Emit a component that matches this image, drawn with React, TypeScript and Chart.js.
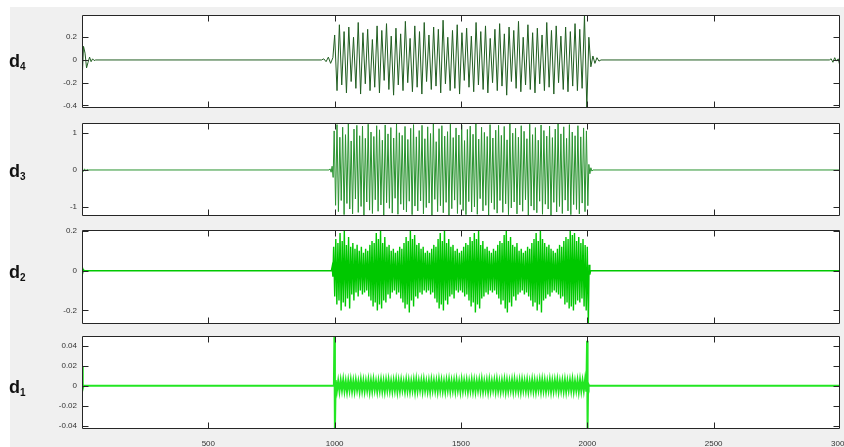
import React, { useEffect, useRef } from 'react';
import { Chart, registerables } from 'chart.js';

Chart.register(...registerables);

// ---------------- data ----------------
const xTickValues = [500, 1000, 1500, 2000, 2500, 3000];
const xTickLabels = ['500', '1000', '1500', '2000', '2500', '3000'];

const d4YTicks = [-0.4, -0.2, 0, 0.2];
const d4YLabels = ['-0.4', '-0.2', '0', '0.2'];
const d3YTicks = [-1, 0, 1];
const d3YLabels = ['-1', '0', '1'];
const d2YTicks = [-0.2, 0, 0.2];
const d2YLabels = ['-0.2', '0', '0.2'];
const d1YTicks = [-0.04, -0.02, 0, 0.02, 0.04];
const d1YLabels = ['-0.04', '-0.02', '0', '0.02', '0.04'];

// d4: edge transients and burst extremes (peak / trough per cycle)
const d4Head = [-0.2, 0.12, 0.06, -0.07, -0.02, 0.025, -0.015, 0.01, -0.005, 0];
const d4LeadIn = [0.01, -0.015, 0.025, -0.03, 0.02];
const d4Peaks = [
  0.22, 0.31, 0.25, 0.29, 0.2, 0.33, 0.24, 0.27, 0.18, 0.3,
  0.26, 0.32, 0.21, 0.28, 0.23, 0.34, 0.19, 0.3, 0.25, 0.33,
  0.22, 0.29, 0.27, 0.35, 0.2, 0.26, 0.31, 0.24, 0.28, 0.21,
  0.33, 0.25, 0.3, 0.19, 0.27, 0.32, 0.23, 0.29, 0.26, 0.34,
  0.2, 0.31, 0.24, 0.28, 0.22, 0.33, 0.26, 0.3, 0.21, 0.29,
  0.25, 0.32, 0.27, 0.39,
];
const d4Troughs = [
  -0.27, -0.22, -0.29, -0.19, -0.25, -0.3, -0.21, -0.27, -0.24, -0.29,
  -0.18, -0.26, -0.31, -0.22, -0.27, -0.2, -0.28, -0.24, -0.3, -0.19,
  -0.26, -0.23, -0.29, -0.21, -0.27, -0.25, -0.3, -0.18, -0.24, -0.28,
  -0.22, -0.26, -0.29, -0.2, -0.27, -0.23, -0.31, -0.19, -0.25, -0.28,
  -0.22, -0.26, -0.29, -0.21, -0.27, -0.24, -0.3, -0.2, -0.26, -0.28,
  -0.23, -0.27, -0.25, -0.42,
];
const d4LeadOut = [0.2, -0.06, 0.035, -0.03, 0.02, -0.01, 0];
const d4Tail = [0.01, -0.02, 0.02, -0.01, 0.01, -0.055];

// d3
const d3Head = [0.03, -0.04, 0.03, -0.02, 0.01, 0];
const d3LeadIn = [0.03, -0.06, 0.1, -0.2];
const d3Peaks = [
  1.05, 1.22, 0.88, 1.15, 0.95, 1.24, 0.78, 1.1, 1.2, 0.92, 1.18, 0.85, 1.23, 1.02, 0.9,
  1.19, 1.08, 0.8, 1.21, 0.97, 1.14, 0.86, 1.25, 1.0, 0.93, 1.17, 0.82, 1.12, 1.22, 0.89,
  1.06, 1.2, 0.84, 1.16, 0.98, 1.24, 0.76, 1.11, 1.19, 0.91, 1.03, 1.23, 0.87, 1.13, 0.94,
  1.21, 0.79, 1.09, 1.18, 0.96, 1.24, 0.83, 1.15, 1.01, 0.9, 1.22, 0.86, 1.07, 1.2, 0.93,
  1.17, 0.81, 1.25, 0.99, 1.12, 0.88, 1.19, 1.04, 0.84, 1.23, 0.95, 1.14, 0.8, 1.21, 1.06,
  0.91, 1.18, 0.87, 1.1, 1.24, 0.97, 1.16, 0.85, 1.22, 1.02, 0.92, 1.19, 0.89, 1.13, 1.05,
];
const d3Troughs = [
  -0.95, -1.12, -0.82, -1.2, -0.9, -1.05, -1.18, -0.78, -1.14, -0.98, -1.21, -0.86, -1.08, -1.17, -0.8,
  -1.11, -0.94, -1.22, -0.88, -1.03, -1.16, -0.76, -1.19, -0.92, -1.07, -1.13, -0.84, -1.2, -0.97, -1.1,
  -0.83, -1.18, -1.01, -0.89, -1.22, -0.79, -1.12, -0.96, -1.15, -0.87, -1.21, -1.04, -0.81, -1.17, -0.93,
  -1.09, -1.2, -0.85, -1.13, -0.99, -1.19, -0.77, -1.1, -0.95, -1.22, -0.88, -1.06, -1.16, -0.82, -1.14,
  -0.91, -1.2, -1.02, -0.86, -1.18, -0.94, -1.11, -0.8, -1.21, -0.97, -1.08, -1.15, -0.84, -1.19, -0.92,
  -1.05, -1.22, -0.87, -1.13, -0.98, -1.17, -0.81, -1.1, -1.2, -0.93, -1.06, -1.18, -0.89, -1.12, -0.96,
];
const d3LeadOut = [0.15, -0.1, 0.06, -0.03, 0];

// d2
const d2Head = [0.015, -0.01, 0.005, 0];
const d2LeadIn = [0.02, -0.03];
const d2Upper = [
  0.12, 0.16, 0.14, 0.19, 0.15, 0.2, 0.13, 0.17, 0.12, 0.14, 0.11, 0.13, 0.1, 0.12, 0.09,
  0.11, 0.1, 0.13, 0.15, 0.14, 0.19, 0.16, 0.2, 0.14, 0.17, 0.12, 0.13, 0.1, 0.11, 0.09,
  0.1, 0.12, 0.11, 0.14, 0.17, 0.15, 0.2, 0.16, 0.18, 0.13, 0.14, 0.11, 0.12, 0.09, 0.1,
  0.09, 0.11, 0.13, 0.12, 0.16, 0.19, 0.15, 0.2, 0.14, 0.16, 0.12, 0.13, 0.1, 0.11, 0.09,
  0.1, 0.12, 0.14, 0.13, 0.17, 0.15, 0.19, 0.16, 0.2, 0.13, 0.15, 0.11, 0.12, 0.1, 0.09,
  0.11, 0.1, 0.13, 0.15, 0.14, 0.18, 0.2, 0.15, 0.17, 0.13, 0.12, 0.14, 0.1, 0.11, 0.09,
  0.1, 0.12, 0.11, 0.14, 0.16, 0.19, 0.15, 0.2, 0.16, 0.14, 0.12, 0.13, 0.11, 0.1, 0.09,
  0.11, 0.13, 0.12, 0.15, 0.17, 0.16, 0.2, 0.18, 0.19, 0.15, 0.17, 0.14, 0.16, 0.13, 0.12,
];
const d2Lower = [
  -0.13, -0.17, -0.15, -0.2, -0.16, -0.18, -0.14, -0.19, -0.12, -0.15, -0.11, -0.13, -0.1, -0.12, -0.11,
  -0.1, -0.13, -0.15, -0.18, -0.16, -0.2, -0.17, -0.19, -0.15, -0.16, -0.12, -0.14, -0.11, -0.1, -0.12,
  -0.11, -0.14, -0.16, -0.19, -0.17, -0.21, -0.15, -0.18, -0.13, -0.14, -0.11, -0.12, -0.1, -0.11, -0.1,
  -0.12, -0.11, -0.14, -0.16, -0.19, -0.17, -0.2, -0.15, -0.17, -0.13, -0.12, -0.14, -0.1, -0.11, -0.1,
  -0.11, -0.13, -0.12, -0.15, -0.18, -0.16, -0.21, -0.17, -0.19, -0.14, -0.13, -0.11, -0.12, -0.1, -0.11,
  -0.1, -0.12, -0.14, -0.17, -0.15, -0.19, -0.21, -0.16, -0.18, -0.13, -0.15, -0.12, -0.11, -0.1, -0.12,
  -0.11, -0.13, -0.15, -0.18, -0.16, -0.2, -0.17, -0.21, -0.15, -0.14, -0.12, -0.13, -0.11, -0.1, -0.11,
  -0.12, -0.14, -0.13, -0.17, -0.16, -0.19, -0.18, -0.2, -0.17, -0.15, -0.16, -0.14, -0.18, -0.2, -0.27,
];
const d2LeadOut = [0.03, -0.02, 0];

// d1
const d1Head = [0.019, -0.003, 0];
const d1LeadIn = [0.05, -0.045];
const d1Upper = [
  0.0055, 0.0046, 0.0052, 0.0058, 0.0044, 0.005, 0.0056, 0.0047, 0.0053, 0.0042,
  0.0057, 0.0049, 0.0045, 0.0054, 0.0051, 0.0058, 0.0043, 0.0048, 0.0055, 0.0046,
  0.0052, 0.0057, 0.0044, 0.005, 0.0056, 0.0047, 0.0053, 0.0041, 0.0055, 0.0049,
  0.0045, 0.0054, 0.0058, 0.0046, 0.0051, 0.0056, 0.0043, 0.0048, 0.0055, 0.005,
  0.0047, 0.0057, 0.0052, 0.0044, 0.0053, 0.0058, 0.0046, 0.005, 0.0055, 0.0042,
  0.0056, 0.0049, 0.0053, 0.0045, 0.0057, 0.0051, 0.0047, 0.0054, 0.0058, 0.0044,
  0.005, 0.0055, 0.0046, 0.0052, 0.0057, 0.0043, 0.0049, 0.0056, 0.0051, 0.0047,
  0.0054, 0.0058, 0.0045, 0.005, 0.0055, 0.0048, 0.0053, 0.0042, 0.0057, 0.0049,
  0.0046, 0.0054, 0.0058, 0.0051, 0.0044, 0.0056, 0.0048, 0.0053, 0.0057, 0.0045,
  0.005, 0.0055, 0.0047, 0.0052, 0.0058, 0.0044, 0.0051, 0.0056, 0.0049, 0.006,
];
const d1Lower = [
  -0.005, -0.0056, -0.0045, -0.0053, -0.0058, -0.0047, -0.0052, -0.0055, -0.0043, -0.0057,
  -0.0049, -0.0054, -0.0046, -0.0058, -0.0051, -0.0044, -0.0056, -0.0048, -0.0053, -0.0057,
  -0.0045, -0.005, -0.0055, -0.0047, -0.0058, -0.0052, -0.0043, -0.0054, -0.0049, -0.0056,
  -0.0046, -0.0057, -0.0051, -0.0044, -0.0055, -0.0048, -0.0053, -0.0058, -0.0045, -0.005,
  -0.0056, -0.0047, -0.0052, -0.0057, -0.0043, -0.0054, -0.0049, -0.0055, -0.0046, -0.0058,
  -0.0051, -0.0044, -0.0056, -0.0048, -0.0053, -0.0057, -0.0045, -0.005, -0.0055, -0.0047,
  -0.0058, -0.0052, -0.0043, -0.0054, -0.0049, -0.0056, -0.0046, -0.0057, -0.0051, -0.0044,
  -0.0055, -0.0048, -0.0053, -0.0058, -0.0045, -0.005, -0.0056, -0.0047, -0.0052, -0.0057,
  -0.0043, -0.0054, -0.0049, -0.0055, -0.0046, -0.0058, -0.0051, -0.0044, -0.0056, -0.0048,
  -0.0053, -0.0057, -0.0045, -0.005, -0.0055, -0.0047, -0.0058, -0.0052, -0.0049, -0.006,
];
const d1LeadOut = [0.045, -0.045, 0.002, 0];

// ---------------- series assembly ----------------
type SeriesDef = {
  head: number[]; headStep: number;
  leadIn: number[]; leadInStart: number; leadInStep: number;
  upper: number[]; lower: number[]; burstStart: number; burstEnd: number;
  leadOut: number[]; leadOutStart: number; leadOutStep: number;
  tail?: number[]; tailStart?: number; tailStep?: number;
};

function buildSeries(s: SeriesDef) {
  const pts: { x: number; y: number }[] = [];
  s.head.forEach((v, i) => pts.push({ x: i * s.headStep, y: v }));
  pts.push({ x: s.leadInStart - s.leadInStep, y: 0 });
  s.leadIn.forEach((v, i) => pts.push({ x: s.leadInStart + i * s.leadInStep, y: v }));
  const n = Math.min(s.upper.length, s.lower.length);
  const step = (s.burstEnd - s.burstStart) / (2 * n - 1);
  for (let i = 0; i < n; i++) {
    pts.push({ x: s.burstStart + 2 * i * step, y: s.upper[i] });
    pts.push({ x: s.burstStart + (2 * i + 1) * step, y: s.lower[i] });
  }
  s.leadOut.forEach((v, i) => pts.push({ x: s.leadOutStart + i * s.leadOutStep, y: v }));
  if (s.tail && s.tailStart !== undefined && s.tailStep !== undefined) {
    pts.push({ x: s.tailStart - s.tailStep, y: 0 });
    s.tail.forEach((v, i) => pts.push({ x: (s.tailStart as number) + i * (s.tailStep as number), y: v }));
  } else {
    pts.push({ x: 3000, y: 0 });
  }
  return pts;
}

const boxPlugin = {
  id: 'matlabBox',
  beforeDraw(chart: any) {
    const { ctx, chartArea: a } = chart;
    ctx.save();
    ctx.fillStyle = '#ffffff';
    ctx.fillRect(a.left, a.top, a.right - a.left, a.bottom - a.top);
    ctx.restore();
  },
  afterDatasetsDraw(chart: any, _args: any, opts: any) {
    const { ctx, chartArea: a, scales } = chart;
    const L = Math.round(a.left) + 0.5;
    const R = Math.round(a.right) - 0.5;
    const T = Math.round(a.top) + 0.5;
    const B = Math.round(a.bottom) - 0.5;
    ctx.save();
    ctx.strokeStyle = '#262626';
    ctx.lineWidth = 1;
    ctx.beginPath();
    ctx.rect(L, T, R - L, B - T);
    xTickValues.forEach((v) => {
      if (v >= 3000) return;
      const px = Math.round(scales.x.getPixelForValue(v)) + 0.5;
      ctx.moveTo(px, T); ctx.lineTo(px, T + 6);
      ctx.moveTo(px, B); ctx.lineTo(px, B - 6);
    });
    (opts.yTicks || []).forEach((v: number) => {
      const py = Math.round(scales.y.getPixelForValue(v)) + 0.5;
      ctx.moveTo(L, py); ctx.lineTo(L + 6, py);
      ctx.moveTo(R, py); ctx.lineTo(R - 6, py);
    });
    ctx.stroke();
    ctx.restore();
  },
};

type PanelDef = {
  name: string; sub: string;
  top: number; bottom: number;
  min: number; max: number;
  yTicks: number[]; yLabels: string[];
  color: string; width: number; series: SeriesDef; isBottom: boolean;
};

const panels: PanelDef[] = [
  {
    name: 'd', sub: '4', top: 15, bottom: 108, min: -0.423, max: 0.396,
    yTicks: d4YTicks, yLabels: d4YLabels, color: '#215e21', width: 1, isBottom: false,
    series: {
      head: d4Head, headStep: 6, leadIn: d4LeadIn, leadInStart: 957, leadInStep: 9,
      upper: d4Peaks, lower: d4Troughs, burstStart: 1000, burstEnd: 1998,
      leadOut: d4LeadOut, leadOutStart: 2006, leadOutStep: 8,
      tail: d4Tail, tailStart: 2965, tailStep: 7,
    },
  },
  {
    name: 'd', sub: '3', top: 123, bottom: 216, min: -1.237, max: 1.263,
    yTicks: d3YTicks, yLabels: d3YLabels, color: '#2a9430', width: 1, isBottom: false,
    series: {
      head: d3Head, headStep: 5, leadIn: d3LeadIn, leadInStart: 982, leadInStep: 4,
      upper: d3Peaks, lower: d3Troughs, burstStart: 998, burstEnd: 2002,
      leadOut: d3LeadOut, leadOutStart: 2006, leadOutStep: 4,
    },
  },
  {
    name: 'd', sub: '2', top: 230, bottom: 324, min: -0.2685, max: 0.205,
    yTicks: d2YTicks, yLabels: d2YLabels, color: '#00c800', width: 1.4, isBottom: false,
    series: {
      head: d2Head, headStep: 3, leadIn: d2LeadIn, leadInStart: 990, leadInStep: 3,
      upper: d2Upper, lower: d2Lower, burstStart: 996, burstEnd: 2004,
      leadOut: d2LeadOut, leadOutStart: 2007, leadOutStep: 3,
    },
  },
  {
    name: 'd', sub: '1', top: 336, bottom: 429, min: -0.0433, max: 0.0497,
    yTicks: d1YTicks, yLabels: d1YLabels, color: '#22e622', width: 2, isBottom: true,
    series: {
      head: d1Head, headStep: 3, leadIn: d1LeadIn, leadInStart: 999, leadInStep: 2,
      upper: d1Upper, lower: d1Lower, burstStart: 1004, burstEnd: 1996,
      leadOut: d1LeadOut, leadOutStart: 1999, leadOutStep: 2,
    },
  },
];

const FONT = "'Liberation Sans', Arial, sans-serif";
const PAD = 8;
const W = 844;
const H = 447;

function Panel({ p }: { p: PanelDef }) {
  const ref = useRef<HTMLCanvasElement | null>(null);
  const canvasTop = p.top - PAD;
  const canvasH = p.isBottom ? H - canvasTop : p.bottom - p.top + 2 * PAD;

  useEffect(() => {
    if (!ref.current) return;
    const chart = new Chart(ref.current, {
      type: 'line',
      data: {
        datasets: [
          {
            data: buildSeries(p.series),
            borderColor: p.color,
            borderWidth: p.width,
            pointRadius: 0,
            tension: 0,
            fill: false,
          },
        ],
      },
      options: {
        animation: false,
        responsive: false,
        events: [],
        parsing: false,
        normalized: true,
        layout: { padding: { top: PAD, bottom: p.isBottom ? 0 : PAD, left: 0, right: 4 } },
        plugins: {
          legend: { display: false },
          tooltip: { enabled: false },
          matlabBox: { yTicks: p.yTicks },
        } as any,
        scales: {
          x: {
            type: 'linear',
            min: 0,
            max: 3000,
            display: p.isBottom,
            grid: { display: false, drawTicks: false },
            border: { display: false },
            ticks: {
              font: { family: FONT, size: 8 },
              color: '#333333',
              padding: 10,
              autoSkip: false,
              maxRotation: 0,
              callback: (_v: any, i: number) => xTickLabels[i],
            },
            afterBuildTicks: (s: any) => {
              s.ticks = xTickValues.map((v) => ({ value: v }));
            },
            afterFit: (s: any) => {
              s.height = p.isBottom ? H - p.bottom : 0;
              s.paddingLeft = 0;
              s.paddingRight = 0;
            },
          },
          y: {
            type: 'linear',
            min: p.min,
            max: p.max,
            grid: { display: false, drawTicks: false },
            border: { display: false },
            ticks: {
              font: { family: FONT, size: 8 },
              color: '#333333',
              padding: 5,
              autoSkip: false,
              callback: (_v: any, i: number) => p.yLabels[i],
            },
            afterBuildTicks: (s: any) => {
              s.ticks = p.yTicks.map((v) => ({ value: v }));
            },
            afterFit: (s: any) => {
              s.width = 82;
              s.paddingTop = 0;
              s.paddingBottom = 0;
            },
          },
        },
      },
      plugins: [boxPlugin as any],
    });
    return () => chart.destroy();
  }, []);

  return (
    <canvas
      ref={ref}
      width={W}
      height={canvasH}
      style={{ position: 'absolute', left: 0, top: canvasTop, width: W, height: canvasH }}
    />
  );
}

export default function App() {
  return (
    <div
      style={{
        position: 'absolute', left: 0, top: 0, width: W, height: H,
        background: '#ffffff', overflow: 'hidden',
      }}
    >
      <div style={{ position: 'absolute', left: 10, top: 7, right: 0, bottom: 0, background: '#f0f0f0' }} />
      {panels.map((p) => (
        <Panel key={p.sub} p={p} />
      ))}
      {panels.map((p) => {
        const zeroY = p.top + ((p.max - 0) / (p.max - p.min)) * (p.bottom - p.top);
        return (
          <div
            key={'lbl' + p.sub}
            style={{
              position: 'absolute', left: 9, top: Math.round(zeroY - 8),
              fontFamily: FONT, fontWeight: 'bold', color: '#111111',
              fontSize: 18, lineHeight: '18px', whiteSpace: 'nowrap',
            }}
          >
            <span>{p.name}</span>
            <span style={{ fontSize: 10, position: 'relative', top: 3 }}>{p.sub}</span>
          </div>
        );
      })}
    </div>
  );
}
